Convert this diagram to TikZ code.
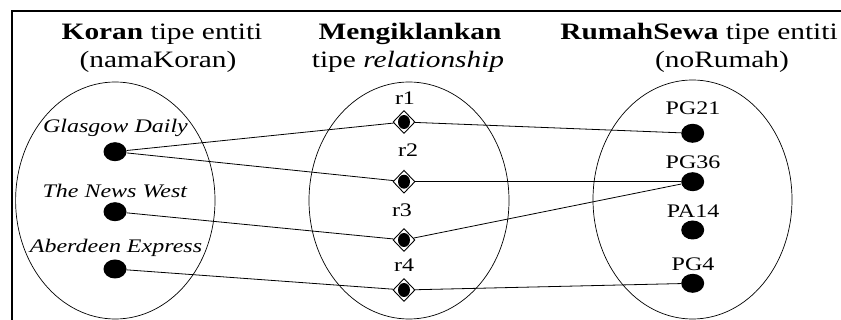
\documentclass[tikz,border=0pt]{standalone}
\usepackage{fontspec}
\setmainfont{Liberation Serif}[FakeStretch=1.25]
\usetikzlibrary{shapes.geometric}
\begin{document}
\begin{tikzpicture}[x=1pt,y=-1pt,
  ttl/.style={anchor=base,inner sep=0pt,font=\fontsize{23.5}{28}\selectfont},
  itm/.style={anchor=base,inner sep=0pt,font=\fontsize{19.2}{23}\selectfont},
  dot/.style={ellipse,fill=black,inner sep=0pt,minimum width=23pt,minimum height=19pt},
  rel/.style={diamond,draw=black,line width=0.9pt,fill=white,inner sep=0pt,minimum width=22pt,minimum height=23pt},
  reldot/.style={ellipse,fill=black,inner sep=0pt,minimum width=12pt,minimum height=14pt},
  set/.style={draw=black,line width=0.7pt},
  link/.style={draw=black,line width=0.8pt},
  frame/.style={draw=black,line width=2pt}]
\useasboundingbox (0,0) rectangle (841,320);
\draw[frame] (11.5,321) -- (11.5,11) -- (842,11);
% sets
\draw[set] (115.3,200.5) ellipse [x radius=99.7, y radius=118.5];
\draw[set] (409,200.5) ellipse [x radius=100, y radius=118.5];
\draw[set] (692.5,199.5) ellipse [x radius=99.5, y radius=119.5];
% titles
\node[ttl] (t1a) at (162,40) {\textbf{Koran} tipe entiti};
\node[ttl] (t1b) at (158,68) {(namaKoran)};
\node[ttl] (t2a) at (410,40) {\textbf{Mengiklankan}};
\node[ttl] (t2b) at (408,68) {tipe \textit{relationship}};
\node[ttl] (t3a) at (699,40) {\textbf{RumahSewa} tipe entiti};
\node[ttl] (t3b) at (722,68) {(noRumah)};
% left entities
\node[dot] (gd) at (115,151.7) {};
\node[dot] (nw) at (115,211.7) {};
\node[dot] (ae) at (115,269) {};
\node[itm] (lgd) at (115.5,133) {\textit{Glasgow Daily}};
\node[itm] (lnw) at (115,198) {\textit{The News West}};
\node[itm] (lae) at (116,253) {\textit{Aberdeen Express}};
% relationships
\node[rel] (r1) at (404,122) {};
\node[rel] (r2) at (404,181.7) {};
\node[rel] (r3) at (404,240) {};
\node[rel] (r4) at (404,290) {};
\node[reldot] (r1d) at (r1) {};
\node[reldot] (r2d) at (r2) {};
\node[reldot] (r3d) at (r3) {};
\node[reldot] (r4d) at (r4) {};
\node[itm] (lr1) at (405,105) {r1};
\node[itm] (lr2) at (408,157) {r2};
\node[itm] (lr3) at (402,217) {r3};
\node[itm] (lr4) at (404,272) {r4};
% right entities
\node[dot] (p21) at (692.7,133.3) {};
\node[dot] (p36) at (692.7,181.7) {};
\node[dot] (a14) at (692.7,230) {};
\node[dot] (p4) at (692.7,283.3) {};
\node[itm] (l21) at (693,115) {PG21};
\node[itm] (l36) at (693,169) {PG36};
\node[itm] (l14) at (693,218) {PA14};
\node[itm] (l4) at (693,271) {PG4};
% links
\draw[link] (gd) -- (r1);
\draw[link] (gd) -- (r2);
\draw[link] (nw) -- (r3);
\draw[link] (ae) -- (r4);
\draw[link] (r1) -- (p21);
\draw[link] (r2) -- (p36);
\draw[link] (r3) -- (p36);
\draw[link] (r4) -- (p4);
\end{tikzpicture}
\end{document}
